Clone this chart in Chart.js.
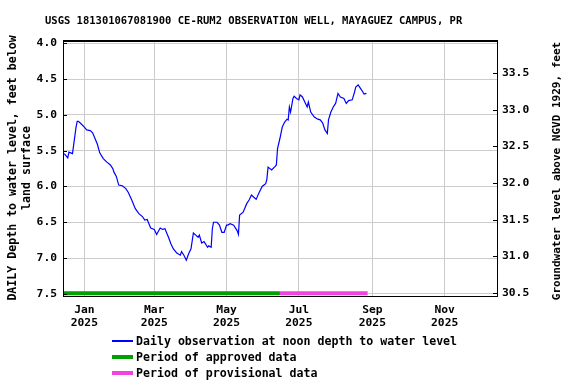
<!DOCTYPE html>
<html>
<head>
<meta charset="utf-8">
<script src="https://cdn.jsdelivr.net/npm/chart.js@4/dist/chart.umd.min.js"></script>
<style>
  html, body { margin: 0; padding: 0; background: #fff; }
  #wrap { position: relative; width: 576px; height: 384px; }
  .mono { font-family: "DejaVu Sans Mono", monospace; font-weight: bold; color: #000; }
  #title { position: absolute; left: 45px; top: 13px; font-size: 10.5px; line-height: 14px; white-space: nowrap; }
  #legend { position: absolute; left: 112px; top: 333px; font-size: 11.6px; }
  .row { height: 16px; display: flex; align-items: center; white-space: nowrap; }
  .swatch { width: 21px; margin-right: 3px; }
</style>
</head>
<body>
<div id="wrap">
  <canvas id="chart" width="576" height="384"></canvas>
  <div id="title" class="mono">USGS 181301067081900 CE-RUM2 OBSERVATION WELL, MAYAGUEZ CAMPUS, PR</div>
  <div id="legend" class="mono">
    <div class="row"><div class="swatch" style="height:1.5px;background:#0000ff"></div>Daily observation at noon depth to water level</div>
    <div class="row"><div class="swatch" style="height:4px;background:#00a000"></div>Period of approved data</div>
    <div class="row"><div class="swatch" style="height:4px;background:#f044dc"></div>Period of provisional data</div>
  </div>
</div>
<script>
(function() {
    // daily depth to water, feet below land surface
    const obsDates = [
        '2024-12-15', '2024-12-18', '2024-12-19', '2024-12-22', '2024-12-23', '2024-12-25',
        '2024-12-26', '2024-12-27', '2024-12-29', '2025-01-01', '2025-01-03', '2025-01-06',
        '2025-01-08', '2025-01-10', '2025-01-12', '2025-01-14', '2025-01-17', '2025-01-20',
        '2025-01-23', '2025-01-25', '2025-01-26', '2025-01-28', '2025-01-30', '2025-02-02',
        '2025-02-05', '2025-02-07', '2025-02-10', '2025-02-13', '2025-02-16', '2025-02-19',
        '2025-02-21', '2025-02-23', '2025-02-26', '2025-03-01', '2025-03-03', '2025-03-06',
        '2025-03-08', '2025-03-10', '2025-03-13', '2025-03-15', '2025-03-17', '2025-03-20',
        '2025-03-23', '2025-03-24', '2025-03-26', '2025-03-28', '2025-03-30', '2025-04-01',
        '2025-04-03', '2025-04-05', '2025-04-07', '2025-04-08', '2025-04-10', '2025-04-12',
        '2025-04-15', '2025-04-16', '2025-04-18', '2025-04-19', '2025-04-20', '2025-04-23',
        '2025-04-25', '2025-04-27', '2025-04-29', '2025-05-01', '2025-05-02', '2025-05-04',
        '2025-05-07', '2025-05-10', '2025-05-11', '2025-05-12', '2025-05-15', '2025-05-18',
        '2025-05-20', '2025-05-22', '2025-05-24', '2025-05-26', '2025-05-28', '2025-05-31',
        '2025-06-03', '2025-06-04', '2025-06-05', '2025-06-08', '2025-06-11', '2025-06-12',
        '2025-06-13', '2025-06-15', '2025-06-17', '2025-06-19', '2025-06-21', '2025-06-22',
        '2025-06-23', '2025-06-24', '2025-06-26', '2025-06-27', '2025-06-29', '2025-07-01',
        '2025-07-02', '2025-07-04', '2025-07-06', '2025-07-08', '2025-07-09', '2025-07-11',
        '2025-07-14', '2025-07-17', '2025-07-19', '2025-07-21', '2025-07-23', '2025-07-25',
        '2025-07-26', '2025-07-28', '2025-07-30', '2025-08-01', '2025-08-03', '2025-08-05',
        '2025-08-08', '2025-08-10', '2025-08-12', '2025-08-15', '2025-08-17', '2025-08-18',
        '2025-08-20', '2025-08-22', '2025-08-24', '2025-08-25', '2025-08-27'
    ];
    const obsDepth = [
        5.54, 5.60, 5.52, 5.54, 5.42, 5.17,
        5.09, 5.09, 5.12, 5.17, 5.21, 5.22,
        5.25, 5.33, 5.41, 5.53, 5.61, 5.66,
        5.70, 5.75, 5.80, 5.86, 5.98, 5.99,
        6.03, 6.08, 6.19, 6.31, 6.38, 6.42,
        6.47, 6.46, 6.58, 6.60, 6.67, 6.58,
        6.60, 6.59, 6.71, 6.80, 6.87, 6.93,
        6.96, 6.91, 6.96, 7.03, 6.94, 6.87,
        6.65, 6.68, 6.71, 6.68, 6.79, 6.77,
        6.85, 6.83, 6.85, 6.59, 6.50, 6.50,
        6.54, 6.64, 6.64, 6.54, 6.54, 6.52,
        6.54, 6.62, 6.67, 6.40, 6.36, 6.24,
        6.19, 6.12, 6.15, 6.18, 6.10, 6.00,
        5.96, 5.90, 5.73, 5.77, 5.72, 5.70,
        5.47, 5.33, 5.17, 5.10, 5.06, 5.07,
        4.89, 4.96, 4.77, 4.74, 4.77, 4.79,
        4.72, 4.75, 4.82, 4.89, 4.82, 4.96,
        5.03, 5.06, 5.07, 5.11, 5.21, 5.26,
        5.07, 4.96, 4.89, 4.84, 4.70, 4.75,
        4.77, 4.84, 4.80, 4.79, 4.68, 4.61,
        4.58, 4.63, 4.68, 4.71, 4.70
    ];

    const approvedPeriod = ['2024-12-14', '2025-06-15'];
    const provisionalPeriod = ['2025-06-15', '2025-08-28'];
    const periodDepth = 7.49;

    const monthTicks = ['2025-01-01', '2025-03-01', '2025-05-01', '2025-07-01', '2025-09-01', '2025-11-01'];
    const monthLabels = [['Jan', '2025'], ['Mar', '2025'], ['May', '2025'], ['Jul', '2025'], ['Sep', '2025'], ['Nov', '2025']];
    const depthTicks = [4.0, 4.5, 5.0, 5.5, 6.0, 6.5, 7.0, 7.5];
    const elevTicks = [30.5, 31.0, 31.5, 32.0, 32.5, 33.0, 33.5];

    const xRange = ['2024-12-14', '2025-12-16'];
    const depthRange = [3.954, 7.53];
    const elevRange = [30.46, 33.95];

    const leftTitle = ['DAILY Depth to water level, feet below', 'land surface'];
    const rightTitle = 'Groundwater level above NGVD 1929, feet';

    const DAY = 86400000;
    const base = Date.UTC(2025, 0, 1);
    const toDay = s => (Date.parse(s + 'T00:00:00Z') - base) / DAY;

    const font = { family: '"DejaVu Sans Mono", monospace', weight: 'bold', size: 11.3 };
    const titleFont = { family: '"DejaVu Sans Mono", monospace', weight: 'bold', size: 11.6, lineHeight: 1.2 };
    Chart.defaults.color = '#000';

    const frame = {
        id: 'frame',
        afterDraw(chart) {
            const { ctx, chartArea: a, scales } = chart;
            ctx.save();
            ctx.strokeStyle = '#000';
            ctx.lineWidth = 1;
            ctx.strokeRect(a.left + 0.5, a.top + 0.5, a.right - a.left - 1, a.bottom - a.top);
            ctx.beginPath();
            ctx.moveTo(a.left, a.top + 1.5);
            ctx.lineTo(a.right, a.top + 1.5);
            scales.y.ticks.forEach(t => {
                const py = Math.round(scales.y.getPixelForValue(t.value)) + 0.5;
                ctx.moveTo(a.left, py);
                ctx.lineTo(a.left + 4, py);
            });
            scales.y2.ticks.forEach(t => {
                const py = Math.round(scales.y2.getPixelForValue(t.value)) + 0.5;
                ctx.moveTo(a.right - 5, py);
                ctx.lineTo(a.right, py);
            });
            ctx.stroke();
            ctx.translate(557, (a.top + a.bottom) / 2 + 3);
            ctx.rotate(-Math.PI / 2);
            ctx.font = 'bold 11px "DejaVu Sans Mono", monospace';
            ctx.fillStyle = '#000';
            ctx.textAlign = 'center';
            ctx.textBaseline = 'middle';
            ctx.fillText(rightTitle, 0, 0);
            ctx.restore();
        }
    };

    const periodLine = (range, color) => ({
        data: range.map(d => ({ x: toDay(d), y: periodDepth })),
        borderColor: color,
        borderWidth: 4,
        pointRadius: 0,
        yAxisID: 'y'
    });

    new Chart(document.getElementById('chart'), {
        type: 'line',
        data: {
            datasets: [
                {
                    data: obsDates.map((d, i) => ({ x: toDay(d), y: obsDepth[i] })),
                    borderColor: '#0000ff',
                    borderWidth: 1.2,
                    pointRadius: 0,
                    tension: 0,
                    yAxisID: 'y'
                },
                periodLine(approvedPeriod, '#00a000'),
                periodLine(provisionalPeriod, '#f044dc')
            ]
        },
        options: {
            responsive: false,
            animation: false,
            events: [],
            layout: { padding: { top: 40, right: 0, bottom: 48, left: 0 } },
            plugins: { legend: { display: false }, tooltip: { enabled: false } },
            scales: {
                x: {
                    type: 'linear',
                    min: toDay(xRange[0]),
                    max: toDay(xRange[1]),
                    afterBuildTicks: s => { s.ticks = monthTicks.map(d => ({ value: toDay(d) })); },
                    afterFit: s => { s.height = 40; },
                    grid: { color: '#cccccc', drawTicks: false },
                    border: { display: false },
                    ticks: {
                        font: font,
                        padding: 7,
                        maxRotation: 0,
                        autoSkip: false,
                        callback: (v, i) => monthLabels[i]
                    }
                },
                y: {
                    position: 'left',
                    reverse: true,
                    min: depthRange[0],
                    max: depthRange[1],
                    afterBuildTicks: s => { s.ticks = depthTicks.map(v => ({ value: v })); },
                    afterFit: s => { s.width = 63; },
                    grid: { color: '#cccccc', drawTicks: false },
                    border: { display: false },
                    ticks: { font: font, padding: 6, callback: v => v.toFixed(1) },
                    title: { display: true, text: leftTitle, font: titleFont, padding: { top: 6, bottom: 0 } }
                },
                y2: {
                    position: 'right',
                    min: elevRange[0],
                    max: elevRange[1],
                    afterBuildTicks: s => { s.ticks = elevTicks.map(v => ({ value: v })); },
                    afterFit: s => { s.width = 78; },
                    grid: { display: false, drawTicks: false },
                    border: { display: false },
                    ticks: { font: font, padding: 4, callback: v => v.toFixed(1) }
                }
            }
        },
        plugins: [frame]
    });
})();
</script>
</body>
</html>
